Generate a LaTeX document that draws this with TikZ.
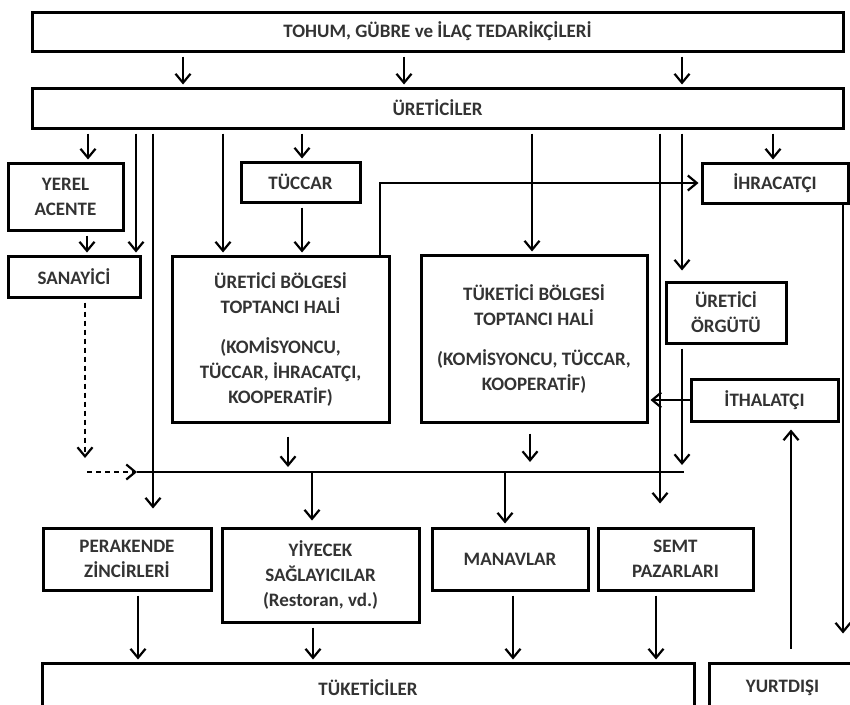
\documentclass[tikz,border=0pt]{standalone}
\usepackage{fontspec}
\setmainfont{Carlito}
\usetikzlibrary{arrows.meta}
\begin{document}
\begin{tikzpicture}[x=1pt,y=-1pt,
  box/.style={draw, line width=3pt, align=center, inner sep=0pt,
    font=\bfseries\fontsize{19}{25}\selectfont, text=black!80},
  conn/.style={line width=1.8pt, shorten <=4pt, shorten >=2pt,
    -{Straight Barb[length=9pt,width=15pt,line width=2.2pt]}},
  plain/.style={line width=1.8pt}]
\clip (0,0) rectangle (850,704);
\fill[white] (0,0) rectangle (850,704);
% boxes
\node[box, minimum width=811pt, minimum height=39pt] (sup) at (437.5,31.5) {TOHUM, GÜBRE ve İLAÇ TEDARİKÇİLERİ};
\node[box, minimum width=811pt, minimum height=40pt] (ure) at (437.5,108) {ÜRETİCİLER};
\node[box, minimum width=115pt, minimum height=67pt] (yerel) at (65.5,196.5) {YEREL\\ACENTE};
\node[box, minimum width=119pt, minimum height=40pt] (tuccar) at (300.5,182) {TÜCCAR};
\node[box, minimum width=146pt, minimum height=40pt] (ihr) at (775,183) {İHRACATÇI};
\node[box, minimum width=132pt, minimum height=41pt] (sana) at (74,276.5) {SANAYİCİ};
\node[box, minimum width=217pt, minimum height=166pt] (ubh) at (280.5,339) {ÜRETİCİ BÖLGESİ\\TOPTANCI HALİ\\[15pt](KOMİSYONCU,\\TÜCCAR, İHRACATÇI,\\KOOPERATİF)};
\node[box, minimum width=226pt, minimum height=167pt] (tbh) at (534,338.5) {TÜKETİCİ BÖLGESİ\\TOPTANCI HALİ\\[15pt](KOMİSYONCU, TÜCCAR,\\KOOPERATİF)};
\node[box, minimum width=120pt, minimum height=61pt] (uorg) at (726,312.5) {ÜRETİCİ\\ÖRGÜTÜ};
\node[box, minimum width=147pt, minimum height=42pt] (ith) at (764.5,400) {İTHALATÇI};
\node[box, minimum width=168pt, minimum height=62pt] (per) at (127,559) {PERAKENDE\\ZİNCİRLERİ};
\node[box, minimum width=197pt, minimum height=94pt] (yiy) at (320.5,575) {YİYECEK\\SAĞLAYICILAR\\(Restoran, vd.)};
\node[box, minimum width=156pt, minimum height=62pt] (man) at (510,559) {MANAVLAR};
\node[box, minimum width=155pt, minimum height=62pt] (semt) at (675.5,559) {SEMT\\PAZARLARI};
\node[box, minimum width=652pt, minimum height=49pt] (tuk) at (368,687.5) {TÜKETİCİLER};
\node[box, minimum width=147pt, minimum height=49pt] (yurt) at (782.5,687.5) {YURTDIŞI};
% free points
\coordinate (busL) at (137,472);
\coordinate (busR) at (684,472);
\coordinate (dashEnd) at (85,458);
\coordinate (dashStart) at (87,472);
% supplier -> producers
\foreach \x in {183,404,682}
  \draw[conn] (sup.south -| \x,0) -- (ure.north -| \x,0);
% producers -> ...
\draw[conn] (ure.south -| 88,0) -- (yerel.north -| 88,0);
\draw[conn] (ure.south -| 136,0) -- (sana.north -| 136,0);
\draw[conn, shorten >=18pt] (ure.south -| 153,0) -- (per.north -| 153,0);
\draw[conn] (ure.south -| 223,0) -- (ubh.north -| 223,0);
\draw[conn] (ure.south -| 302,0) -- (tuccar.north -| 302,0);
\draw[conn] (tuccar.south -| 302,0) -- (ubh.north -| 302,0);
\draw[conn] (ure.south -| 532,0) -- (tbh.north -| 532,0);
\draw[conn, shorten >=23pt] (ure.south -| 660,0) -- (semt.north -| 660,0);
\draw[conn, shorten >=10pt] (ure.south -| 682,0) -- (uorg.north -| 682,0);
\draw[conn] (ure.south -| 773,0) -- (ihr.north -| 773,0);
\draw[conn] (yerel.south -| 87,0) -- (sana.north -| 87,0);
% wholesale -> exporter
\draw[conn, shorten <=0pt] (ubh.north -| 380,0) |- (ihr.west);
% exporter -> abroad, abroad -> importer -> consumer-region hall
\draw[conn, shorten >=28pt, shorten <=0pt] (ihr.south -| 843,0) -- (yurt.north -| 843,0);
\draw[conn, shorten <=13pt, shorten >=7pt] (yurt.north -| 791,0) -- (ith.south -| 791,0);
\draw[conn, shorten <=0pt] (ith.west) -- (tbh.east |- ith.west);
% into the bus
\draw[plain] (busL) -- (busR);
\draw[conn, shorten >=7pt] (uorg.south -| 682,0) -- (busR -| 682,0);
\draw[conn, shorten <=13pt, shorten >=5pt] (ubh.south -| 288,0) -- (busL -| 288,0);
\draw[conn, shorten <=10pt, shorten >=10pt] (tbh.south -| 530,0) -- (busL -| 530,0);
\draw[conn, dashed, dash pattern=on 5pt off 4pt, shorten >=0pt] (sana.south -| 85,0) -- (dashEnd);
\draw[conn, dashed, dash pattern=on 5pt off 4pt, shorten <=0pt, shorten >=0pt] (dashStart) -- (busL);
% bus -> retail
\draw[conn, shorten <=0pt, shorten >=6pt] (busL -| 312,0) -- (yiy.north -| 312,0);
\draw[conn, shorten <=0pt, shorten >=3pt] (busL -| 505,0) -- (man.north -| 505,0);
% retail -> consumers
\draw[conn] (per.south -| 138,0) -- (tuk.north -| 138,0);
\draw[conn] (yiy.south -| 313,0) -- (tuk.north -| 313,0);
\draw[conn] (man.south -| 513,0) -- (tuk.north -| 513,0);
\draw[conn] (semt.south -| 656,0) -- (tuk.north -| 656,0);
\end{tikzpicture}
\end{document}
